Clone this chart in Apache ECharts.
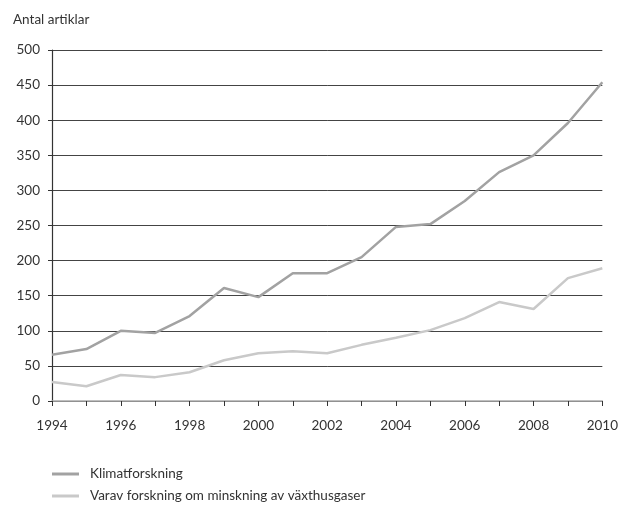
<!DOCTYPE html>
<html><head><meta charset="utf-8">
<script src="https://cdn.jsdelivr.net/npm/echarts@6/dist/echarts.min.js"></script>
<style>html,body{margin:0;padding:0;background:#fff}#c{width:621px;height:508px}</style>
</head><body><div id="c"></div>
<script>
const years = ['1994','1995','1996','1997','1998','1999','2000','2001','2002','2003','2004','2005','2006','2007','2008','2009','2010'];
const klimat = [66,74,100,97,121,161,148,182,182,205,248,252,285,326,350,396,454];
const varav = [27,21,37,34,41,58,68,71,68,80,90,101,118,141,131,175,189];
const seriesNames = ['Klimatforskning','Varav forskning om minskning av växthusgaser'];
const yTitle = 'Antal artiklar';
const font = 'Lato, "Open Sans", sans-serif';
const chart = echarts.init(document.getElementById('c'), null, {renderer:'canvas'});
chart.setOption({
  animation:false,
  textStyle:{fontFamily:font},
  grid:{left:52,right:16,top:50,bottom:107,containLabel:false},
  title:{text:yTitle,left:8,top:8,textStyle:{fontFamily:font,fontSize:13.5,fontWeight:'normal',color:'#333'}},
  legend:{orient:'vertical',left:52,top:467,padding:0,itemGap:8,itemWidth:27,itemHeight:3,icon:'rect',height:50,
    textStyle:{fontFamily:font,fontSize:13.5,color:'#333',padding:[0,0,0,6]},
    data:seriesNames},
  xAxis:{type:'category',data:years,boundaryGap:false,
    axisLine:{lineStyle:{color:'#aaa',width:1.5}},
    axisTick:{show:true,interval:0,length:5,lineStyle:{color:'#333'}},
    axisLabel:{interval:1,color:'#333',fontSize:13.5,margin:18},
    splitLine:{show:false}},
  yAxis:{type:'value',min:0,max:500,interval:50,
    axisLine:{show:true,lineStyle:{color:'#333',width:1.2}},
    axisTick:{show:true,length:4,lineStyle:{color:'#333'}},
    axisLabel:{color:'#333',fontSize:13.5,margin:12},
    splitLine:{lineStyle:{color:'#444',width:1}}},
  series:[
    {name:seriesNames[0],type:'line',data:klimat,showSymbol:false,symbol:'none',lineStyle:{color:'#a2a2a2',width:2.5},itemStyle:{color:'#a2a2a2'}},
    {name:seriesNames[1],type:'line',data:varav,showSymbol:false,symbol:'none',lineStyle:{color:'#c9c9c9',width:2.5},itemStyle:{color:'#c9c9c9'}}
  ]
});
</script></body></html>
